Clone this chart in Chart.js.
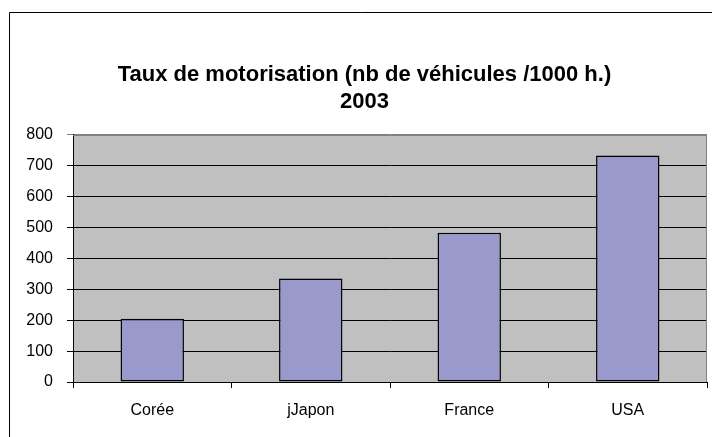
<!DOCTYPE html>
<html>
<head>
<meta charset="utf-8">
<script src="https://cdn.jsdelivr.net/npm/chart.js@4.4.1/dist/chart.umd.min.js"></script>
<style>
  html, body { margin: 0; padding: 0; background: #fff; }
  canvas { display: block; }
</style>
</head>
<body>
<canvas id="chart" width="712" height="437"></canvas>
<script>
// Taux de motorisation 2003 (vehicules pour 1000 habitants)
var pays = ["Corée", "jJapon", "France", "USA"];
var vehicules = [205, 335, 483, 733];
var titre = ["Taux de motorisation (nb de véhicules /1000 h.)", "2003"];
var yMax = 800;
var yStep = 100;

var police = "'Liberation Sans', Arial, sans-serif";

// cadre du graphique + fond gris de la zone de tracé
var cadrePlugin = {
    id: "cadre",
    beforeDraw: function(chart) {
        var ctx = chart.ctx;
        var area = chart.chartArea;
        ctx.save();
        ctx.fillStyle = "#ffffff";
        ctx.fillRect(0, 0, chart.width, chart.height);
        ctx.strokeStyle = "#000000";
        ctx.lineWidth = 1;
        ctx.beginPath();
        ctx.moveTo(9.5, chart.height + 5);
        ctx.lineTo(9.5, 12.5);
        ctx.lineTo(chart.width + 5, 12.5);
        ctx.stroke();
        ctx.fillStyle = "#c0c0c0";
        ctx.fillRect(area.left, area.top, area.right - area.left, area.bottom - area.top);
        ctx.restore();
    },
    afterDatasetsDraw: function(chart) {
        var ctx = chart.ctx;
        var area = chart.chartArea;
        ctx.save();
        ctx.strokeStyle = "#808080";
        ctx.lineWidth = 1;
        ctx.beginPath();
        ctx.moveTo(area.left, Math.round(area.top) + 0.5);
        ctx.lineTo(Math.round(area.right) - 0.5, Math.round(area.top) + 0.5);
        ctx.lineTo(Math.round(area.right) - 0.5, area.bottom);
        ctx.stroke();
        ctx.restore();
    }
};

var chart = new Chart(document.getElementById("chart"), {
    type: "bar",
    data: {
        labels: pays,
        datasets: [{
            data: vehicules,
            backgroundColor: "#9999cc",
            borderColor: "#000000",
            borderWidth: 1.5,
            borderSkipped: false,
            barPercentage: 0.4,
            categoryPercentage: 1
        }]
    },
    options: {
        responsive: false,
        animation: false,
        layout: {
            padding: { left: 22, right: 5, top: 0, bottom: 0 }
        },
        plugins: {
            legend: { display: false },
            tooltip: { enabled: false },
            title: {
                display: true,
                text: titre,
                color: "#000000",
                font: { family: police, size: 22, weight: "bold", lineHeight: 1.2 },
                padding: { top: 62, bottom: 20 }
            }
        },
        scales: {
            x: {
                grid: {
                    display: true,
                    drawOnChartArea: false,
                    drawTicks: true,
                    tickLength: 6,
                    color: "#000000",
                    offset: true
                },
                border: { display: true, color: "#000000", width: 1 },
                ticks: {
                    color: "#000000",
                    padding: 13,
                    font: { family: police, size: 16 }
                },
                afterFit: function(scale) {
                    scale.height = 55;
                }
            },
            y: {
                min: 0,
                max: yMax,
                grid: {
                    color: function(c) {
                        return c.tick && c.tick.value === yMax ? "#808080" : "#000000";
                    },
                    tickLength: 6,
                    drawTicks: true
                },
                border: { display: true, color: "#000000", width: 1 },
                ticks: {
                    stepSize: yStep,
                    color: "#000000",
                    padding: 14,
                    font: { family: police, size: 16 }
                },
                afterFit: function(scale) {
                    scale.width = 51;
                }
            }
        }
    },
    plugins: [cadrePlugin]
});
</script>
</body>
</html>
